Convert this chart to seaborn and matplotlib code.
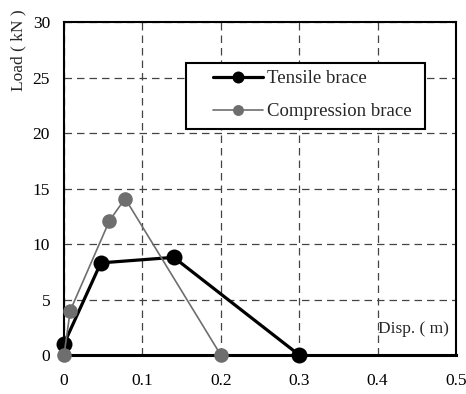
import matplotlib
matplotlib.use('Agg')
import matplotlib.pyplot as plt
from matplotlib.patches import Rectangle
import seaborn as sns
import pandas as pd

# Data
tensile_disp = [0.0, 0.0, 0.047, 0.14, 0.30]
tensile_load = [0.0, 2.0, 8.3, 8.8, 0.0]
comp_disp = [0.0, 0.008, 0.058, 0.078, 0.20]
comp_load = [0.0, 4.0, 12.1, 14.1, 0.0]

x_ticks = [0, 0.1, 0.2, 0.3, 0.4, 0.5]
x_tick_labels = ['0', '0.1', '0.2', '0.3', '0.4', '0.5']
y_ticks = [0, 5, 10, 15, 20, 25, 30]

sns.set_style('white')
plt.rcParams['font.family'] = ['Liberation Serif', 'DejaVu Serif']

fig = plt.figure(figsize=(4.66, 3.94), dpi=100)
ax = fig.add_axes([0.1373, 0.099, 0.8412, 0.845])

tens = pd.DataFrame({'disp': tensile_disp, 'load': tensile_load})
comp = pd.DataFrame({'disp': comp_disp, 'load': comp_load})

sns.lineplot(x='disp', y='load', data=tens, sort=False, color='black', linewidth=2.3,
             marker='o', markersize=11.5, markeredgewidth=0, label='Tensile brace',
             ax=ax, clip_on=False, zorder=3)
sns.lineplot(x='disp', y='load', data=comp, sort=False, color='#6e6e6e', linewidth=1.2,
             marker='o', markersize=10.5, markeredgewidth=0, label='Compression brace',
             ax=ax, clip_on=False, zorder=4)

ax.set_xlim(0, 0.5)
ax.set_ylim(0, 30)
ax.set_xticks(x_ticks)
ax.set_xticklabels(x_tick_labels)
ax.set_yticks(y_ticks)
ax.tick_params(axis='both', length=0, labelsize=12.5, colors='black')
ax.tick_params(axis='x', pad=13)
ax.tick_params(axis='y', pad=10)
ax.set_xlabel('')
ax.set_ylabel('')

ax.grid(True, linestyle=(0, (6, 4)), color='#444444', linewidth=0.9)
for side in ['left', 'right', 'top']:
    ax.spines[side].set_color('black')
    ax.spines[side].set_linewidth(1.5)
ax.spines['bottom'].set_color('black')
ax.spines['bottom'].set_linewidth(2.2)

ax.text(0.401, 2.3, 'Disp. ( m)', ha='left', va='center', fontsize=12.5)
fig.text(0.039, 0.873, 'Load ( kN )', rotation=90, ha='center', va='center', fontsize=12.5)

# legend frame drawn separately so the entries can sit further in from the left edge
ax.add_patch(Rectangle((0.311, 0.679), 0.61, 0.198, transform=ax.transAxes,
                       facecolor='white', edgecolor='black', linewidth=1.5, zorder=5))
leg = ax.legend(loc='upper left', bbox_to_anchor=(0.38, 0.856), frameon=False,
                fontsize=13.5, borderpad=0, labelspacing=0.85, handlelength=2.67,
                handletextpad=0.2, borderaxespad=0, markerscale=0.75)
leg.set_zorder(6)

fig.savefig('out.png', dpi=100)
